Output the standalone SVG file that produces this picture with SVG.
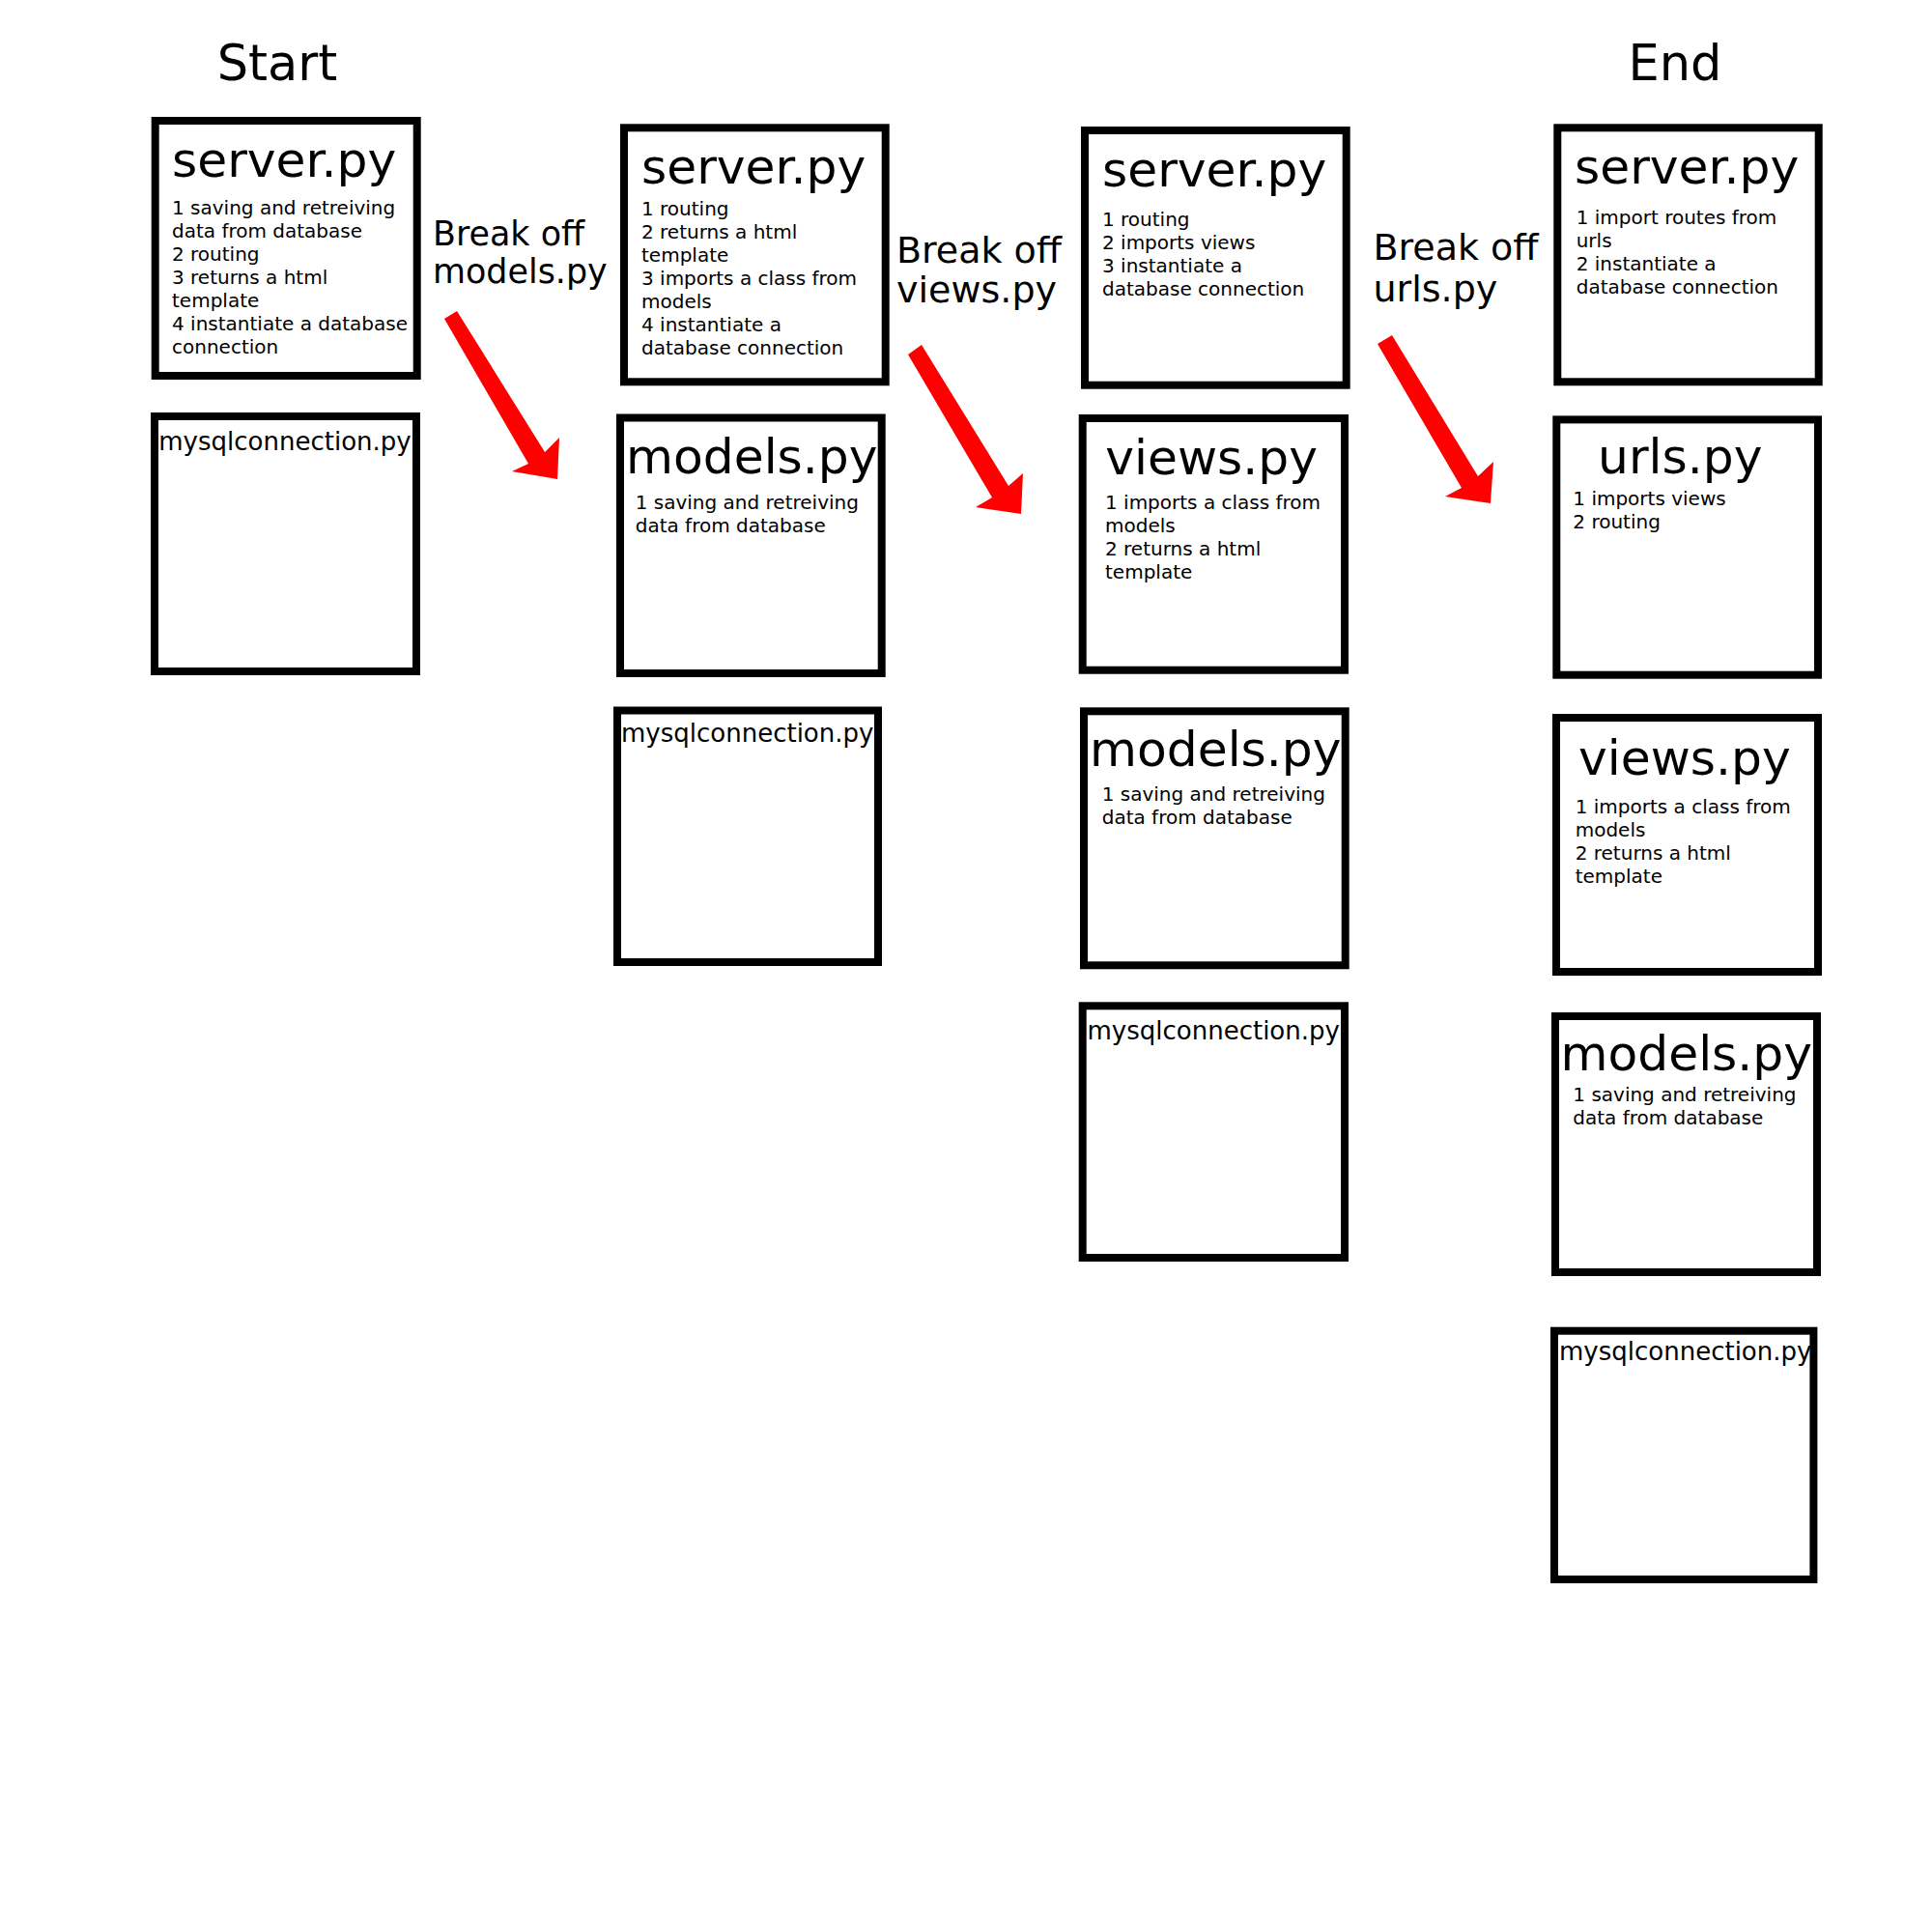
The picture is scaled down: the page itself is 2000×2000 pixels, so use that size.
<svg xmlns="http://www.w3.org/2000/svg" width="2000" height="2000" viewBox="0 0 2000 2000">
<style>
text{font-family:"DejaVu Sans","Liberation Sans",sans-serif;fill:#000}
.box{fill:#fff;stroke:#000;stroke-width:8}
.t{font-size:50.3px}
.b{font-size:20px}
.m{font-size:26px}
.h{font-size:51px}
.l1{font-size:34.9px}
.l2{font-size:38px}
.arrow{fill:#f00;stroke:none}
</style>
<rect width="2000" height="2000" fill="#fff"/>
<g id="labels">
<text class="h" x="287" y="83" text-anchor="middle">Start</text>
<text class="h" x="1734" y="83" text-anchor="middle">End</text>
<text class="l1" x="448" y="254">Break off<tspan x="448" y="293">models.py</tspan></text>
<text class="l2" x="928" y="271.5">Break off<tspan x="928" y="313">views.py</tspan></text>
<text class="l2" x="1421.5" y="268.5">Break off<tspan x="1421.5" y="311.5">urls.py</tspan></text>
</g>
<g id="connectors">
<polygon class="arrow" points="460,330 547,480 530,488 577,496 579,453 564,468 473,322"/>
<polygon class="arrow" points="940,367 1027,515 1010,525 1057,532 1059,490 1044,503 954,357"/>
<polygon class="arrow" points="1426,356 1513,505 1496,514 1543,521 1546,478 1530,493 1441,347"/>
</g>
<g id="c1-server">
<rect class="box" x="160.7" y="125" width="271" height="264"/>
<text class="t" x="178" y="182.7">server.py</text>
<text class="b" x="178" y="222.3">1 saving and retreiving<tspan x="178" dy="24">data from database</tspan><tspan x="178" dy="24">2 routing</tspan><tspan x="178" dy="24">3 returns a html</tspan><tspan x="178" dy="24">template</tspan><tspan x="178" dy="24">4 instantiate a database</tspan><tspan x="178" dy="24">connection</tspan></text>
</g>
<g id="c1-mysql">
<rect class="box" x="160" y="431" width="271" height="264"/>
<text class="m" x="295" y="466" text-anchor="middle">mysqlconnection.py</text>
</g>
<g id="c2-server">
<rect class="box" x="646" y="132.3" width="270.7" height="263"/>
<text class="t" x="664" y="190">server.py</text>
<text class="b" x="664" y="223">1 routing<tspan x="664" dy="24">2 returns a html</tspan><tspan x="664" dy="24">template</tspan><tspan x="664" dy="24">3 imports a class from</tspan><tspan x="664" dy="24">models</tspan><tspan x="664" dy="24">4 instantiate a</tspan><tspan x="664" dy="24">database connection</tspan></text>
</g>
<g id="c2-models">
<rect class="box" x="642" y="432.5" width="270.7" height="264.5"/>
<text class="t" x="648" y="490">models.py</text>
<text class="b" x="657.7" y="526.7">1 saving and retreiving<tspan x="657.7" dy="24">data from database</tspan></text>
</g>
<g id="c2-mysql">
<rect class="box" x="639" y="735.5" width="270" height="260.5"/>
<text class="m" x="643" y="768">mysqlconnection.py</text>
</g>
<g id="c3-server">
<rect class="box" x="1123" y="135" width="270.7" height="263.7"/>
<text class="t" x="1141" y="192.7">server.py</text>
<text class="b" x="1141" y="234">1 routing<tspan x="1141" dy="24">2 imports views</tspan><tspan x="1141" dy="24">3 instantiate a</tspan><tspan x="1141" dy="24">database connection</tspan></text>
</g>
<g id="c3-views">
<rect class="box" x="1120.7" y="433" width="271.3" height="260.7"/>
<text class="t" x="1144.3" y="491">views.py</text>
<text class="b" x="1144" y="527">1 imports a class from<tspan x="1144" dy="24">models</tspan><tspan x="1144" dy="24">2 returns a html</tspan><tspan x="1144" dy="24">template</tspan></text>
</g>
<g id="c3-models">
<rect class="box" x="1122" y="736.3" width="270.7" height="263"/>
<text class="t" x="1128" y="793.3">models.py</text>
<text class="b" x="1140.7" y="829.3">1 saving and retreiving<tspan x="1140.7" dy="24">data from database</tspan></text>
</g>
<g id="c3-mysql">
<rect class="box" x="1120.7" y="1041.3" width="271.3" height="260.7"/>
<text class="m" x="1125.5" y="1076">mysqlconnection.py</text>
</g>
<g id="c4-server">
<rect class="box" x="1612.3" y="132.3" width="270.4" height="263"/>
<text class="t" x="1630" y="190">server.py</text>
<text class="b" x="1631.7" y="231.7">1 import routes from<tspan x="1631.7" dy="24">urls</tspan><tspan x="1631.7" dy="24">2 instantiate a</tspan><tspan x="1631.7" dy="24">database connection</tspan></text>
</g>
<g id="c4-urls">
<rect class="box" x="1611.3" y="434.4" width="270.7" height="264.3"/>
<text class="t" x="1654" y="490.4">urls.py</text>
<text class="b" x="1628.3" y="523">1 imports views<tspan x="1628.3" dy="24">2 routing</tspan></text>
</g>
<g id="c4-views">
<rect class="box" x="1611" y="743" width="271" height="263"/>
<text class="t" x="1634" y="802">views.py</text>
<text class="b" x="1630.7" y="842.3">1 imports a class from<tspan x="1630.7" dy="24">models</tspan><tspan x="1630.7" dy="24">2 returns a html</tspan><tspan x="1630.7" dy="24">template</tspan></text>
</g>
<g id="c4-models">
<rect class="box" x="1610" y="1052" width="271" height="265"/>
<text class="t" x="1615.5" y="1108">models.py</text>
<text class="b" x="1628.3" y="1140">1 saving and retreiving<tspan x="1628.3" dy="24">data from database</tspan></text>
</g>
<g id="c4-mysql">
<rect class="box" x="1609" y="1377.7" width="268.4" height="257.3"/>
<text class="m" x="1614" y="1408">mysqlconnection.py</text>
</g>
</svg>
